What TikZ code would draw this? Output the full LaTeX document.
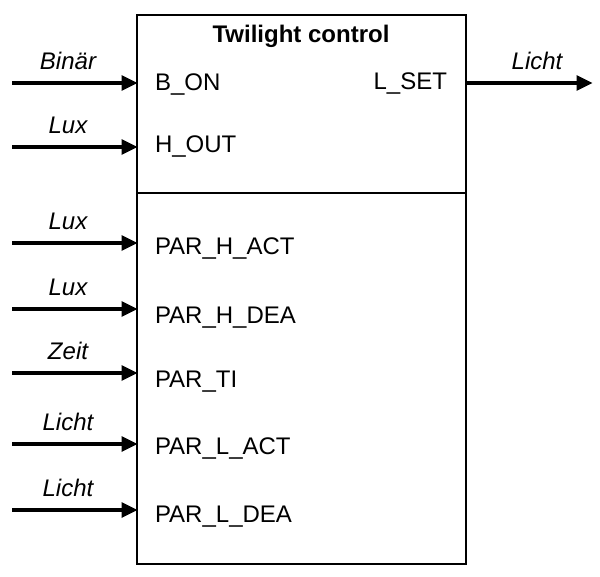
\documentclass[tikz,border=0pt]{standalone}
\usepackage{fontspec}
\setmainfont{Liberation Sans}
\usetikzlibrary{arrows.meta}
\begin{document}
\begin{tikzpicture}[x=1pt,y=-1pt,
  every node/.style={font=\fontsize{24}{28}\selectfont, inner sep=0pt, outer sep=0pt},
  arr/.style={line width=3.3pt, -{Triangle[length=16pt,width=15pt]}, shorten >=-0.5pt},
  sig/.style={anchor=base, font=\fontsize{24}{28}\selectfont\itshape},
  port/.style={anchor=base west},
  frame/.style={draw, line width=2.2pt, minimum width=329pt, minimum height=549pt}]
\useasboundingbox (0,0) rectangle (600,576);
\node[frame] (box) at (301.5,289.5) {};
\coordinate (dv) at (0,193);
\draw[line width=2.2pt] (box.west |- dv) -- (box.east |- dv);
\node[anchor=base, font=\fontsize{24}{28}\selectfont\bfseries] (title) at (301,42) {Twilight control};
% inputs
\foreach \n/\y/\lab/\pname/\pb in {a/83/Binär/B\_ON/90, b/147/Lux/H\_OUT/152, c/243/Lux/PAR\_H\_ACT/254, d/309/Lux/PAR\_H\_DEA/323, e/373/Zeit/PAR\_TI/387, f/444/Licht/PAR\_L\_ACT/454, g/510/Licht/PAR\_L\_DEA/522}{
  \coordinate (s\n) at (12,\y);
  \draw[arr] (s\n) -- (s\n -| box.west);
  \node[sig] (l\n) at (68,\y-14) {\lab};
  \node[port] (p\n) at (155,\pb) {\pname};
}
% output
\coordinate (oy) at (0,83);
\coordinate (oend) at (592,83);
\draw[arr] (box.east |- oy) -- (oend);
\node[sig] (lo) at (537,69) {Licht};
\node[anchor=base east] (pl) at (447,89) {L\_SET};
\end{tikzpicture}
\end{document}
